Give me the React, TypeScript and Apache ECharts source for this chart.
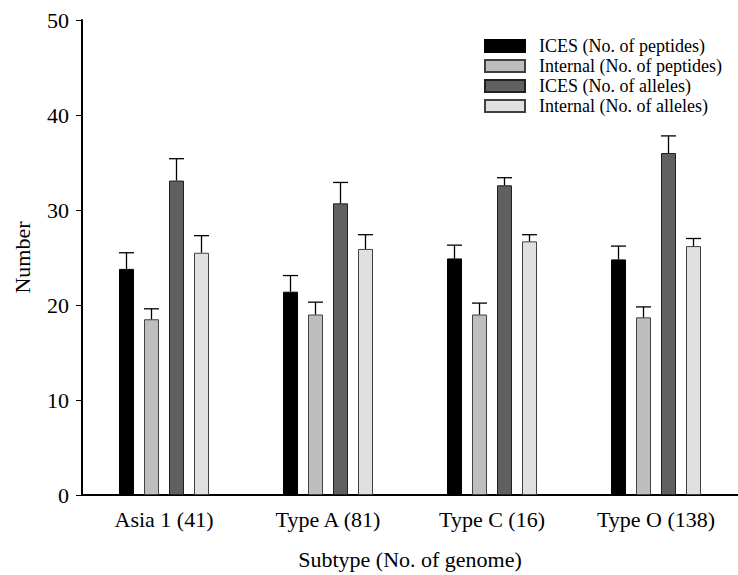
import React, { useEffect, useRef } from "react";
import * as echarts from "echarts";

const categories = ["Asia 1 (41)", "Type A (81)", "Type C (16)", "Type O (138)"];
const seriesNames = [
  "ICES (No. of peptides)",
  "Internal (No. of peptides)",
  "ICES (No. of alleles)",
  "Internal (No. of alleles)",
];
const icesPeptides = [23.8, 21.4, 24.9, 24.8];
const internalPeptides = [18.5, 19.0, 19.0, 18.7];
const icesAlleles = [33.1, 30.7, 32.6, 36.0];
const internalAlleles = [25.5, 25.9, 26.7, 26.2];
const icesPeptidesErr = [1.7, 1.7, 1.4, 1.4];
const internalPeptidesErr = [1.1, 1.3, 1.2, 1.1];
const icesAllelesErr = [2.3, 2.2, 0.8, 1.8];
const internalAllelesErr = [1.8, 1.5, 0.7, 0.8];
const yTicks = [0, 10, 20, 30, 40, 50];

const colors = ["#000000", "#bebebe", "#606060", "#e0e0e0"];
const borders = ["#000000", "#404040", "#202020", "#404040"];

export default function App() {
  const ref = useRef<HTMLDivElement>(null);
  useEffect(() => {
    if (!ref.current) return;
    const chart = echarts.init(ref.current, null, { renderer: "svg" });
    const values = [icesPeptides, internalPeptides, icesAlleles, internalAlleles];
    const errs = [icesPeptidesErr, internalPeptidesErr, icesAllelesErr, internalAllelesErr];
    const barW = 15;
    const step = 25;
    const font = "'Liberation Serif', 'Times New Roman', serif";

    const barSeries = values.map((v, i) => ({
      name: seriesNames[i],
      type: "bar",
      data: v,
      barWidth: barW,
      barGap: "66.67%",
      itemStyle: { color: colors[i], borderColor: borders[i], borderWidth: 1 },
      z: 2,
    }));

    const errSeries = values.map((v, i) => ({
      name: "err" + i,
      type: "custom",
      data: v.map((val, k) => [k, val, val + errs[i][k]]),
      encode: { x: 0, y: [1, 2] },
      z: 3,
      renderItem: (params: any, api: any) => {
        const k = api.value(0);
        const p0 = api.coord([k, api.value(1)]);
        const p1 = api.coord([k, api.value(2)]);
        const off = -1.5 * step + i * step;
        const x = p0[0] + off;
        const half = barW / 2;
        return {
          type: "group",
          children: [
            {
              type: "line",
              shape: { x1: x, y1: p0[1], x2: x, y2: p1[1] },
              style: { stroke: "#000", lineWidth: 1.3 },
            },
            {
              type: "line",
              shape: { x1: x - half, y1: p1[1], x2: x + half, y2: p1[1] },
              style: { stroke: "#000", lineWidth: 1.3 },
            },
          ],
        };
      },
    }));

    chart.setOption({
      animation: false,
      backgroundColor: "#ffffff",
      textStyle: { fontFamily: font },
      grid: { left: 82, top: 20, width: 664, bottom: 78 },
      legend: {
        data: seriesNames,
        orient: "vertical",
        left: 484,
        top: 37,
        padding: 0,
        itemWidth: 40,
        itemHeight: 12,
        itemGap: 2,
        icon: "rect",
        textStyle: {
          fontFamily: font,
          fontSize: 18,
          color: "#000",
          lineHeight: 17,
          padding: [0, 0, 0, 9],
        },
      },
      xAxis: {
        type: "category",
        data: categories,
        name: "Subtype (No. of genome)",
        nameLocation: "middle",
        nameGap: 53,
        nameTextStyle: { fontFamily: font, fontSize: 22, color: "#000" },
        axisLine: { lineStyle: { color: "#000", width: 2 } },
        axisTick: { show: false },
        axisLabel: { fontFamily: font, fontSize: 22, color: "#000", margin: 13 },
      },
      yAxis: {
        type: "value",
        min: 0,
        max: 50,
        interval: 10,
        name: "Number",
        nameLocation: "middle",
        nameGap: 49,
        nameTextStyle: { fontFamily: font, fontSize: 22, color: "#000" },
        axisLine: { show: true, lineStyle: { color: "#000", width: 2 } },
        axisTick: { show: true, length: 6, lineStyle: { color: "#000", width: 1 } },
        axisLabel: {
          fontFamily: font,
          fontSize: 22,
          color: "#000",
          margin: 13,
          formatter: (v: number) => (yTicks.includes(v) ? String(v) : ""),
        },
        splitLine: { show: false },
      },
      series: [...barSeries, ...errSeries],
    });
    return () => chart.dispose();
  }, []);
  return (
    <div
      ref={ref}
      style={{ position: "fixed", left: 0, top: 0, width: 738, height: 575, background: "#fff" }}
    />
  );
}
